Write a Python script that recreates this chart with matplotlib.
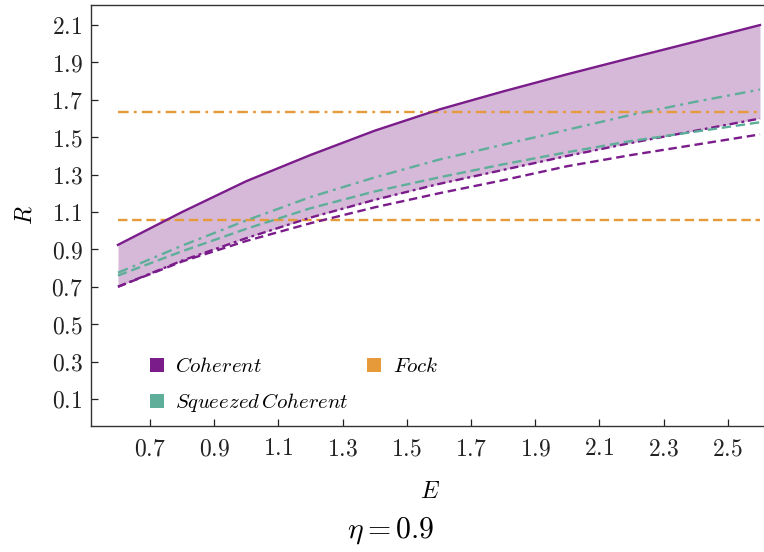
import numpy as np
import matplotlib
matplotlib.use("Agg")
import matplotlib.pyplot as plt
from matplotlib.lines import Line2D
from matplotlib.ticker import FuncFormatter

plt.rcParams['mathtext.fontset'] = 'cm'
plt.rcParams['font.family'] = ['DejaVu Serif']

# Data
E = [0.6, 0.8, 1.0, 1.2, 1.4, 1.6, 1.8, 2.0, 2.2, 2.4, 2.6]
coh_upper = [0.924, 1.10, 1.265, 1.405, 1.535, 1.648, 1.745, 1.837, 1.925, 2.012, 2.10]
coh_lower = [0.70, 0.84, 0.96, 1.07, 1.165, 1.25, 1.325, 1.40, 1.47, 1.535, 1.60]
coh_dashed = [0.70, 0.835, 0.945, 1.04, 1.125, 1.20, 1.27, 1.345, 1.405, 1.46, 1.515]
sq_dashdot = [0.775, 0.92, 1.055, 1.18, 1.285, 1.38, 1.46, 1.54, 1.62, 1.69, 1.755]
sq_dashed = [0.76, 0.89, 1.01, 1.12, 1.21, 1.285, 1.355, 1.42, 1.48, 1.53, 1.58]
fock_upper = 1.635
fock_lower = 1.055
xticks = [0.7, 0.9, 1.1, 1.3, 1.5, 1.7, 1.9, 2.1, 2.3, 2.5]
yticks = [0.1, 0.3, 0.5, 0.7, 0.9, 1.1, 1.3, 1.5, 1.7, 1.9, 2.1]
legend_labels = [r'$Coherent$', r'$Squeezed\,Coherent$', r'$Fock$']

purple = '#7a1c8a'
teal = '#5fae9a'
orange = '#e69a3a'
fillc = '#d6b9d9'

fig = plt.figure(figsize=(7.64, 5.52), dpi=100)
ax = fig.add_axes([91/764, 126/552, 673/764, 421.5/552])

ax.fill_between(E, coh_lower, coh_upper, color=fillc, lw=0, zorder=1)
ax.plot(E, coh_upper, color=purple, lw=1.7, zorder=3)
ax.plot(E, coh_lower, color=purple, lw=1.7, dashes=(3.5, 1.6, 1.2, 1.6), zorder=3)
ax.plot(E, coh_dashed, color=purple, lw=1.7, dashes=(3.6, 2.0), zorder=3)
ax.plot(E, sq_dashdot, color=teal, lw=1.7, dashes=(4.5, 2.2, 1.2, 2.2), zorder=3)
ax.plot(E, sq_dashed, color=teal, lw=1.7, dashes=(4.0, 2.0), zorder=3)
ax.plot([E[0], E[-1]], [fock_upper]*2, color=orange, lw=1.7, dashes=(4.5, 2.2, 1.2, 2.2), zorder=2)
ax.plot([E[0], E[-1]], [fock_lower]*2, color=orange, lw=1.7, dashes=(4.0, 2.0), zorder=2)

ax.set_xlim(0.516, 2.6125)
ax.set_ylim(-0.045, 2.21)
ax.set_xticks(xticks)
ax.set_yticks(yticks)
fmt = FuncFormatter(lambda v, p: r'$%.1f$' % v)
ax.xaxis.set_major_formatter(fmt)
ax.yaxis.set_major_formatter(fmt)
ax.tick_params(direction='in', length=5, width=0.9, labelsize=17, pad=6, colors='#222222')
ax.tick_params(axis='x', pad=8)
for s in ['left', 'bottom', 'top']:
    ax.spines[s].set_color('#333333')
    ax.spines[s].set_linewidth(1.0)
ax.spines['right'].set_visible(False)

ax.set_ylabel(r'$R$', fontsize=17, labelpad=10)
fig.text(430/764, 1 - 491/552, r'$E$', fontsize=17, ha='center', va='center')
fig.text(391/764, 1 - 531/552, r'$\eta=0.9$', fontsize=21.5, ha='center', va='center')

handles = [Line2D([], [], marker='s', ls='none', markersize=10, color=c, markeredgewidth=0)
           for c in [purple, teal, orange]]
ax.legend(handles, legend_labels, ncol=2, frameon=False, fontsize=15,
          loc='upper left', bbox_to_anchor=(0.085, 0.163), borderaxespad=0, borderpad=0,
          handlelength=0.8, handletextpad=0.5, columnspacing=0.8, labelspacing=0.72)

fig.savefig('out.png', dpi=100)
